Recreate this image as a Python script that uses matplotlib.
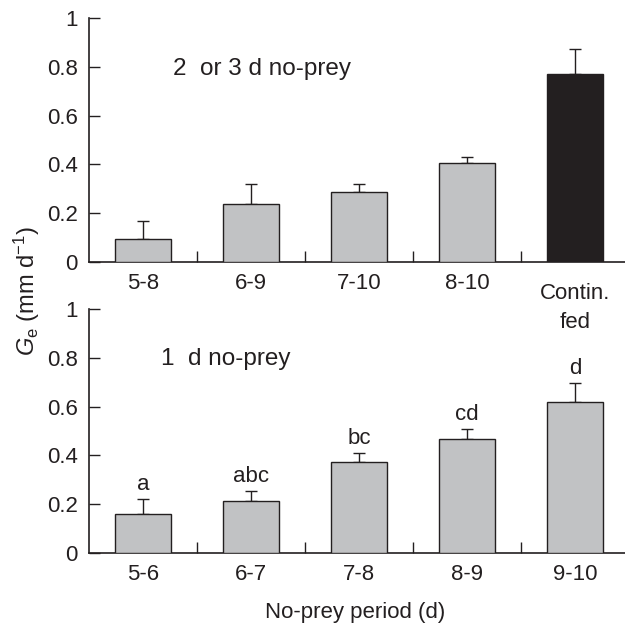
import numpy as np
import matplotlib
matplotlib.use("Agg")
import matplotlib.pyplot as plt

plt.rcParams['font.family'] = ['Liberation Sans', 'DejaVu Sans']
plt.rcParams['mathtext.fontset'] = 'custom'
plt.rcParams['mathtext.rm'] = 'Liberation Sans'
plt.rcParams['mathtext.it'] = 'Liberation Sans:italic'

# Panel superior: 2 o 3 d sin presa
top_labels = ['5-8', '6-9', '7-10', '8-10', 'Contin.\nfed']
top_means = [0.094, 0.238, 0.287, 0.406, 0.770]
top_err = [0.074, 0.082, 0.033, 0.024, 0.103]

# Panel inferior: 1 d sin presa
bot_labels = ['5-6', '6-7', '7-8', '8-9', '9-10']
bot_means = [0.160, 0.213, 0.373, 0.467, 0.619]
bot_err = [0.061, 0.041, 0.037, 0.041, 0.078]
bot_letters = ['a', 'abc', 'bc', 'cd', 'd']

gray = '#c1c2c4'
black = '#231f20'
fs = 16

fig = plt.figure(figsize=(6.25, 6.35), dpi=100)
ax2 = fig.add_axes([0.1424, 0.1291, 0.864, 0.3843])
ax1 = fig.add_axes([0.1424, 0.5874, 0.864, 0.3843])
ax2.patch.set_visible(False)
ax1.patch.set_visible(False)


def draw_panel(ax, labels, means, err, colors):
    x = np.arange(len(labels))
    ax.bar(x, means, width=0.52, color=colors, edgecolor='#231f20',
           linewidth=1.0, zorder=3)
    ax.errorbar(x, means, yerr=[np.zeros(len(err)), err], fmt='none',
                ecolor='#231f20', elinewidth=1.0, capsize=4.5,
                capthick=1.0, zorder=2)
    ax.set_xlim(-0.5, len(labels) - 0.5)
    ax.set_ylim(0, 1)
    ax.set_yticks([0, 0.2, 0.4, 0.6, 0.8, 1])
    ax.set_yticklabels(['0', '0.2', '0.4', '0.6', '0.8', '1'])
    ax.set_xticks(x)
    # la etiqueta con salto de línea se dibuja aparte
    ax.set_xticklabels([l if '\n' not in l else '' for l in labels])
    for i, l in enumerate(labels):
        if '\n' in l:
            ax.annotate(l, (i, 0), xytext=(0, -15), textcoords='offset points',
                        ha='center', va='top', fontsize=fs, linespacing=1.5,
                        color='#231f20', annotation_clip=False)
    ax.set_xticks(x[:-1] + 0.5, minor=True)
    ax.tick_params(axis='x', which='major', length=0, pad=8, labelsize=fs,
                   labelcolor='#231f20')
    ax.tick_params(axis='x', which='minor', direction='in', length=8,
                   width=1.0, color='#231f20')
    ax.tick_params(axis='y', direction='in', length=8, width=1.0, pad=8,
                   labelsize=fs, color='#231f20', labelcolor='#231f20')
    for s in ['top', 'right']:
        ax.spines[s].set_visible(False)
    for s in ['left', 'bottom']:
        ax.spines[s].set_linewidth(1.2)
        ax.spines[s].set_color('#231f20')


draw_panel(ax1, top_labels, top_means, top_err, [gray] * 4 + [black])
draw_panel(ax2, bot_labels, bot_means, bot_err, [gray] * 5)

for i, (m, e, t) in enumerate(zip(bot_means, bot_err, bot_letters)):
    ax2.annotate(t, (i, m + e), xytext=(0, 3), textcoords='offset points',
                 ha='center', va='bottom', fontsize=fs, color='#231f20')

ax1.text(0.155, 0.79, '2  or 3 d no-prey', transform=ax1.transAxes,
         fontsize=17.5, color='#231f20', va='center')
ax2.text(0.133, 0.795, '1  d no-prey', transform=ax2.transAxes,
         fontsize=17.5, color='#231f20', va='center')

fig.text(0.043, 0.542, r'$G_{\mathrm{e}}$ (mm d$^{-1}$)', rotation=90,
         ha='center', va='center', fontsize=17, color='#231f20')
fig.text(0.568, 0.036, 'No-prey period (d)', ha='center', va='center',
         fontsize=fs, color='#231f20')

fig.savefig('out.png', dpi=100)
